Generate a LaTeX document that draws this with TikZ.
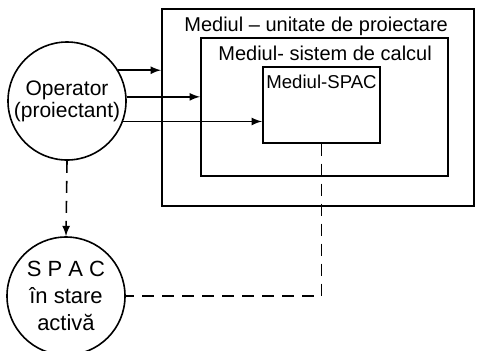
\documentclass[tikz,border=0pt]{standalone}
\usepackage{fontspec}
\setmainfont{Liberation Sans}
\usepackage{tikz}
\usetikzlibrary{positioning,arrows,calc}

\tikzset{
  mediu/.style={draw, thick, rectangle, anchor=north west, inner sep=0pt},
  actor/.style={draw, thick, circle, minimum size=59pt, inner sep=0pt, align=center},
  eticheta/.style={anchor=north west, inner sep=0pt, font=\fontsize{10}{11}\selectfont},
  flux/.style={->, >=latex, thick},
  control/.style={->, >=latex, thick, dashed, dash pattern=on 6pt off 4pt}
}

\begin{document}
\begin{tikzpicture}[x=0.5pt, y=-0.5pt]
  \useasboundingbox (0,0) rectangle (477,350);
  % mediile
  \node[mediu, minimum width=156pt, minimum height=98.5pt] (unit) at (161,8) {};
  \node[mediu, minimum width=123.5pt, minimum height=69pt] (sist) at (200,37) {};
  \node[mediu, minimum width=58.5pt, minimum height=38pt] (spac) at (262,66) {};
  \node[eticheta] (tunit) at (184,17) {Mediul -- unitate de proiectare};
  \node[eticheta] (tsist) at (218,46) {Mediul- sistem de calcul};
  \node[eticheta, font=\fontsize{9.3}{11}\selectfont] (tspac) at (266,75) {Mediul-SPAC};
  % operatorul si SPAC activ
  \node[actor, font=\fontsize{10.5}{11}\selectfont] (op) at (67,101) {Operator\\(proiectant)};
  \node[actor, font=\fontsize{11}{13.5}\selectfont] (activ) at (66,296) {S P A C\\în stare\\activă};

  \draw[flux] (op.31.7) -- (op.31.7 -| unit.west);
  \draw[flux] (op.4.9) -- (op.4.9 -| sist.west);
  \draw[flux] (op.-20.8) -- (op.-20.8 -| spac.west);
  \draw[control] (op.south) -- (activ.north);
  \draw[thick, dashed, dash pattern=on 6pt off 4pt] (spac.south) |- (activ.east);
\end{tikzpicture}
\end{document}
